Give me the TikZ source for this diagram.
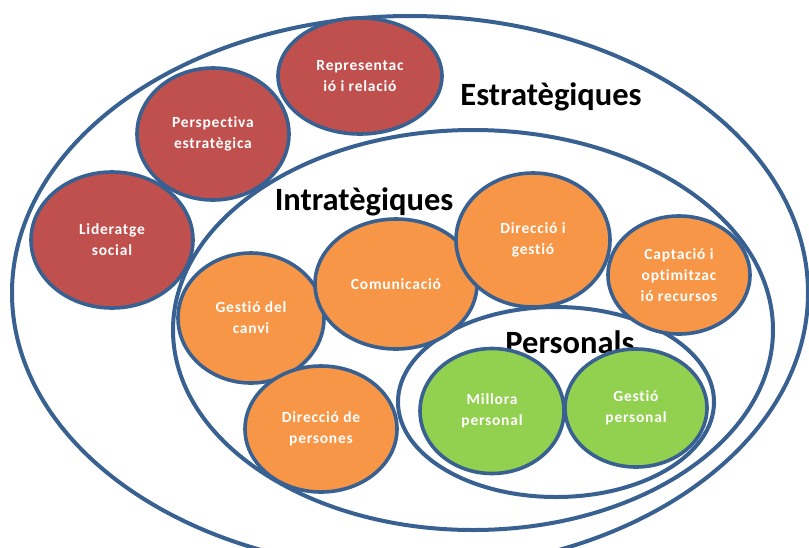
\documentclass[tikz,border=0pt]{standalone}
\usepackage{fontspec}
\setmainfont[Ligatures=NoCommon]{Carlito}
\newfontfamily\bubblefont[LetterSpace=5,Ligatures=NoCommon]{Carlito}
\usetikzlibrary{shapes.geometric}
\definecolor{rimblue}{RGB}{56,97,145}
\definecolor{strat}{RGB}{192,80,77}
\definecolor{intra}{RGB}{247,150,70}
\definecolor{pers}{RGB}{146,208,80}
\tikzset{
  ring/.style={ellipse, draw=rimblue, line width=4pt, inner sep=0pt},
  bubble/.style={ellipse, draw=rimblue, line width=3.6pt, inner sep=0pt,
    text=white, font=\bubblefont\bfseries\fontsize{15.5}{21}\selectfont, align=center},
  redbubble/.style={bubble, fill=strat},
  orangebubble/.style={bubble, fill=intra},
  greenbubble/.style={bubble, fill=pers},
  heading/.style={font=\bfseries\fontsize{32.5}{32}\selectfont, text=black, inner sep=0pt}
}
\begin{document}
\begin{tikzpicture}[x=1pt,y=-1pt]
\useasboundingbox (0,0) rectangle (809,547);
\fill[white] (0,0) rectangle (809,547);

% nested competence areas
\node[ring, minimum width=796pt, minimum height=554pt] (estrat) at (410,293) {};
\node[ring, minimum width=600pt, minimum height=400pt] (intrat) at (473,330) {};
\node[ring, minimum width=316pt, minimum height=190pt] (personal) at (556,402) {};

% area headings
\node[heading] (testrat) at (551,97) {Estratègiques};
\node[heading] (tintrat) at (364,202) {Intratègiques};
\node[heading] (tpers) at (570,342) {Personals};

% strategic competences
\node[redbubble, minimum width=164pt, minimum height=116pt] (repr) at (360,76) {Representac\\ió i relació};
\node[redbubble, minimum width=152pt, minimum height=132pt] (persp) at (213,134) {Perspectiva\\estratègica};
\node[redbubble, minimum width=162pt, minimum height=136pt] (lider) at (112,240) {Lideratge\\social};

% intrastrategic competences
\node[orangebubble, minimum width=146pt, minimum height=130pt] (canvi) at (251,318) {Gestió del\\canvi};
\node[orangebubble, minimum width=162pt, minimum height=130pt] (comun) at (396,284) {Comunicació};
\node[orangebubble, minimum width=154pt, minimum height=134pt] (direc) at (533,240) {Direcció i\\gestió};
\node[orangebubble, minimum width=142pt, minimum height=118pt] (capta) at (679,275) {Captació i\\optimitzac\\ió recursos};
\node[orangebubble, minimum width=152pt, minimum height=126pt] (dpers) at (321,429) {Direcció de\\persones};

% personal competences
\node[greenbubble, minimum width=144pt, minimum height=125pt] (millora) at (492,411) {Millora\\personal};
\node[greenbubble, minimum width=142pt, minimum height=118pt] (gpers) at (636,408) {Gestió\\personal};
\end{tikzpicture}
\end{document}
